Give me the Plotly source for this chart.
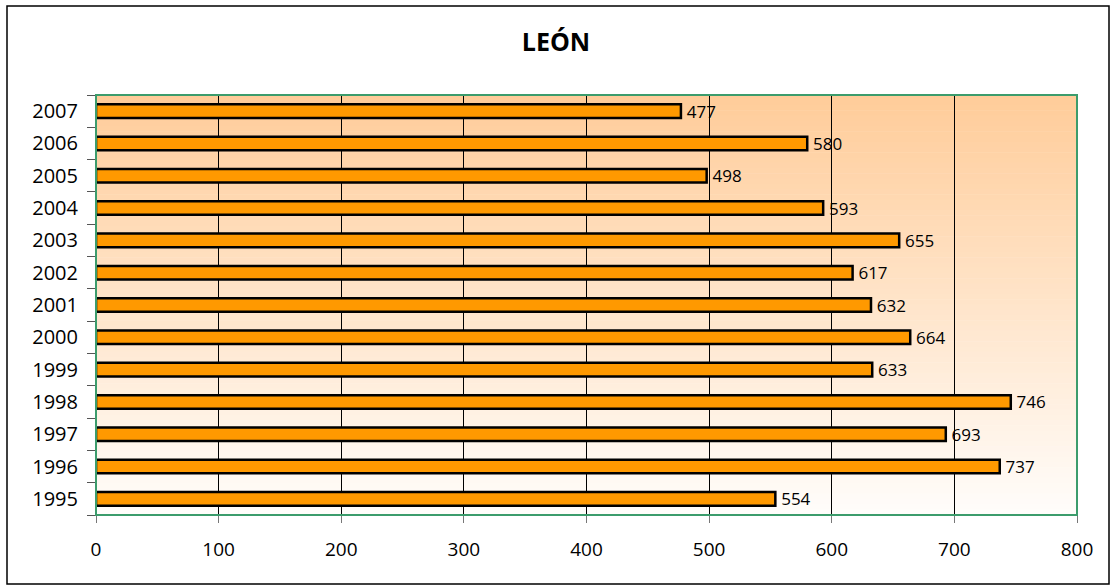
import plotly.graph_objects as go

years = ["1995", "1996", "1997", "1998", "1999", "2000", "2001",
         "2002", "2003", "2004", "2005", "2006", "2007"]
values = [554, 737, 693, 746, 633, 664, 632, 617, 655, 593, 498, 580, 477]
title_text = "LEÓN"
x_ticks = [0, 100, 200, 300, 400, 500, 600, 700, 800]

fig = go.Figure()
fig.add_trace(go.Bar(
    y=years, x=values, orientation="h",
    marker=dict(color="#FF9900", line=dict(color="#000000", width=2.5)),
    width=0.42,
    text=["\u2009" + str(v) for v in values], textposition="outside",
    constraintext="none",
    textfont=dict(family="Open Sans", size=17, color="#000000"),
    cliponaxis=False,
))

# vertical gradient background (top peach -> bottom white)
shapes = []
n = 80
top = (255, 204, 153)
bot = (255, 253, 251)
for i in range(n):
    t = (i + 0.5) / n
    c = tuple(round(top[k] + (bot[k] - top[k]) * t) for k in range(3))
    shapes.append(dict(type="rect", xref="x domain", yref="y domain",
                       x0=0, x1=1, y0=1 - (i + 1) / n, y1=1 - i / n + 0.001,
                       fillcolor="rgb(%d,%d,%d)" % c, line=dict(width=0),
                       layer="below"))
# plot border
shapes.append(dict(type="rect", xref="x domain", yref="y domain",
                   x0=0, x1=1, y0=0, y1=1, line=dict(color="#3C9C6C", width=2),
                   layer="above"))
# outer border
shapes.append(dict(type="rect", xref="paper", yref="paper",
                   x0=-89/981, x1=1 + 32/981, y0=-69/420, y1=1 + 89/420,
                   line=dict(color="#000000", width=1.5)))

fig.update_layout(
    width=1112, height=586,
    margin=dict(l=96, r=35, t=95, b=71),
    paper_bgcolor="white", plot_bgcolor="rgba(0,0,0,0)",
    shapes=shapes,
    showlegend=False,
    title=dict(text="<b>%s</b>" % title_text, x=0.5, xanchor="center",
               y=1 - 42/586, yanchor="middle",
               font=dict(family="Open Sans", size=25, color="#000000")),
    xaxis=dict(range=[0, 800], tickvals=x_ticks, showgrid=True,
               gridcolor="#000000", gridwidth=1, zeroline=False,
               ticks="outside", ticklen=7, tickcolor="#777777",
               showline=False, ticklabelstandoff=10,
               tickfont=dict(family="Open Sans", size=19, color="#000000")),
    yaxis=dict(type="category", categoryorder="array", categoryarray=years,
               tickson="boundaries", ticks="outside", ticklen=8,
               tickcolor="#555555", showgrid=False, showline=False,
               ticklabelstandoff=17,
               tickfont=dict(family="Open Sans", size=20, color="#000000")),
    bargap=0.58,
)

fig.write_html("out.html", config={"displayModeBar": False},
               post_script="document.body.style.margin='0';document.body.style.overflow='hidden';")
